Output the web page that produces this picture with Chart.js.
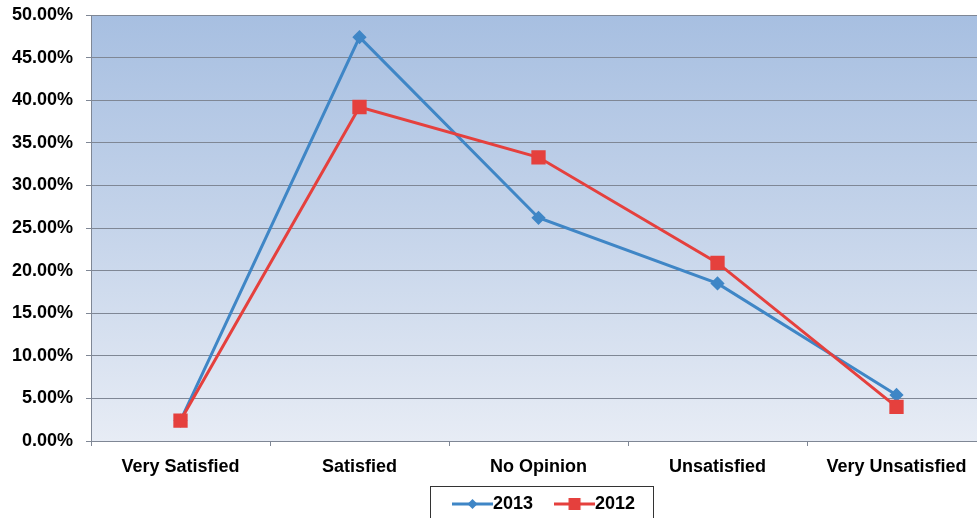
<!DOCTYPE html>
<html>
<head>
<meta charset="utf-8">
<script src="https://cdn.jsdelivr.net/npm/chart.js@4"></script>
<style>
  html, body { margin: 0; padding: 0; background: #ffffff; overflow: hidden; }
  #wrap { width: 977px; height: 518px; position: relative; overflow: hidden; }
  #c { position: absolute; left: 0; top: 0; }
</style>
</head>
<body>
<div id="wrap"><canvas id="c" width="1000" height="540"></canvas></div>
<script>
const categories = ["Very Satisfied", "Satisfied", "No Opinion", "Unsatisfied", "Very Unsatisfied"];
const series2013 = [2.4, 47.4, 26.2, 18.5, 5.4];
const series2012 = [2.4, 39.2, 33.3, 20.9, 4.0];
const seriesNames = ["2013", "2012"];
const yTicks = [0, 5, 10, 15, 20, 25, 30, 35, 40, 45, 50];

const BLUE = "#3f86c6";
const RED = "#e5403d";
const GRID = "#7f8795";
const FONT = "'Liberation Sans', Arial, sans-serif";

function legendIcon(color, shape) {
  const cv = document.createElement("canvas");
  cv.width = 41; cv.height = 16;
  const g = cv.getContext("2d");
  g.strokeStyle = color; g.lineWidth = 3;
  g.beginPath(); g.moveTo(0, 8); g.lineTo(41, 8); g.stroke();
  g.fillStyle = color;
  if (shape === "diamond") {
    g.beginPath(); g.moveTo(20.5, 3); g.lineTo(25.5, 8); g.lineTo(20.5, 13); g.lineTo(15.5, 8); g.closePath(); g.fill();
  } else {
    g.fillRect(14.5, 2, 12, 12);
  }
  return cv;
}
const icons = [legendIcon(BLUE, "diamond"), legendIcon(RED, "square")];

const LEG_PAD = 30;

const bgPlugin = {
  id: "bg",
  afterLayout(chart) {
    const lg = chart.legend;
    if (!lg) return;
    const w = lg.right - lg.left;
    lg.left = 461 - LEG_PAD;
    lg.right = lg.left + w;
    const h = lg.bottom - lg.top;
    lg.top = 504 - 9 - LEG_PAD;
    lg.bottom = lg.top + h;
  },
  beforeDraw(chart) {
    const {ctx, chartArea: a} = chart;
    ctx.save();
    ctx.fillStyle = "#ffffff";
    ctx.fillRect(0, 0, chart.width, chart.height);
    const gr = ctx.createLinearGradient(0, a.top, 0, a.bottom);
    gr.addColorStop(0, "#a7bfe1");
    gr.addColorStop(0.5, "#c5d4ea");
    gr.addColorStop(1, "#e7ecf5");
    ctx.fillStyle = gr;
    ctx.fillRect(a.left, a.top, a.right - a.left, a.bottom - a.top);
    ctx.restore();
  },
  afterDraw(chart) {
    const lg = chart.legend;
    if (!lg || !lg.legendHitBoxes || !lg.legendHitBoxes.length) return;
    const hb = lg.legendHitBoxes;
    const left = hb[0].left - 31;
    const last = hb[hb.length - 1];
    const right = last.left + last.width + 18;
    const ctx = chart.ctx;
    ctx.save();
    ctx.strokeStyle = "#333333";
    ctx.lineWidth = 1;
    ctx.strokeRect(Math.round(left) + 0.5, 486.5, Math.round(right - left), 60);
    ctx.restore();
  }
};

new Chart(document.getElementById("c"), {
  type: "line",
  data: {
    labels: categories,
    datasets: [
      {
        label: seriesNames[0], data: series2013,
        borderColor: BLUE, backgroundColor: BLUE, borderWidth: 3,
        pointStyle: "rectRot", pointRadius: 5, pointBackgroundColor: BLUE, pointBorderColor: BLUE,
        tension: 0, order: 1
      },
      {
        label: seriesNames[1], data: series2012,
        borderColor: RED, backgroundColor: RED, borderWidth: 3,
        pointStyle: "rect", pointRadius: 8, pointBackgroundColor: RED, pointBorderColor: RED,
        tension: 0, order: 0
      }
    ]
  },
  options: {
    responsive: false,
    animation: false,
    devicePixelRatio: 1,
    layout: { padding: { top: 15, right: 14, bottom: 3, left: 0 } },
    plugins: {
      tooltip: { enabled: false },
      legend: {
        position: "bottom",
        align: "start",
        labels: {
          usePointStyle: true,
          pointStyleWidth: 23,
          padding: LEG_PAD,
          color: "#000000",
          font: { family: FONT, size: 18, weight: "bold" },
          sort: (a, b) => a.datasetIndex - b.datasetIndex,
          generateLabels(chart) {
            return chart.data.datasets.map((ds, i) => ({
              text: ds.label, datasetIndex: i, pointStyle: icons[i],
              fillStyle: ds.borderColor, strokeStyle: ds.borderColor, lineWidth: 0, hidden: false
            }));
          }
        }
      }
    },
    scales: {
      x: {
        offset: true,
        grid: { display: true, drawOnChartArea: false, offset: true, tickLength: 5, color: GRID },
        border: { color: GRID, width: 1 },
        ticks: { color: "#000000", font: { family: FONT, size: 18, weight: "bold" }, padding: 10, maxRotation: 0, autoSkip: false },
        afterFit(scale) { scale.height = 38; scale.paddingLeft = 0; scale.paddingRight = 0; }
      },
      y: {
        min: 0, max: 50,
        afterBuildTicks(scale) { scale.ticks = yTicks.map(v => ({ value: v })); },
        grid: { color: GRID, tickLength: 5, lineWidth: 1 },
        border: { color: GRID, width: 1 },
        ticks: {
          color: "#000000", font: { family: FONT, size: 18, weight: "bold" }, padding: 13,
          callback: v => v.toFixed(2) + "%"
        },
        afterFit(scale) { scale.width = 91; scale.paddingTop = 0; scale.paddingBottom = 0; }
      }
    }
  },
  plugins: [bgPlugin]
});
</script>
</body>
</html>
